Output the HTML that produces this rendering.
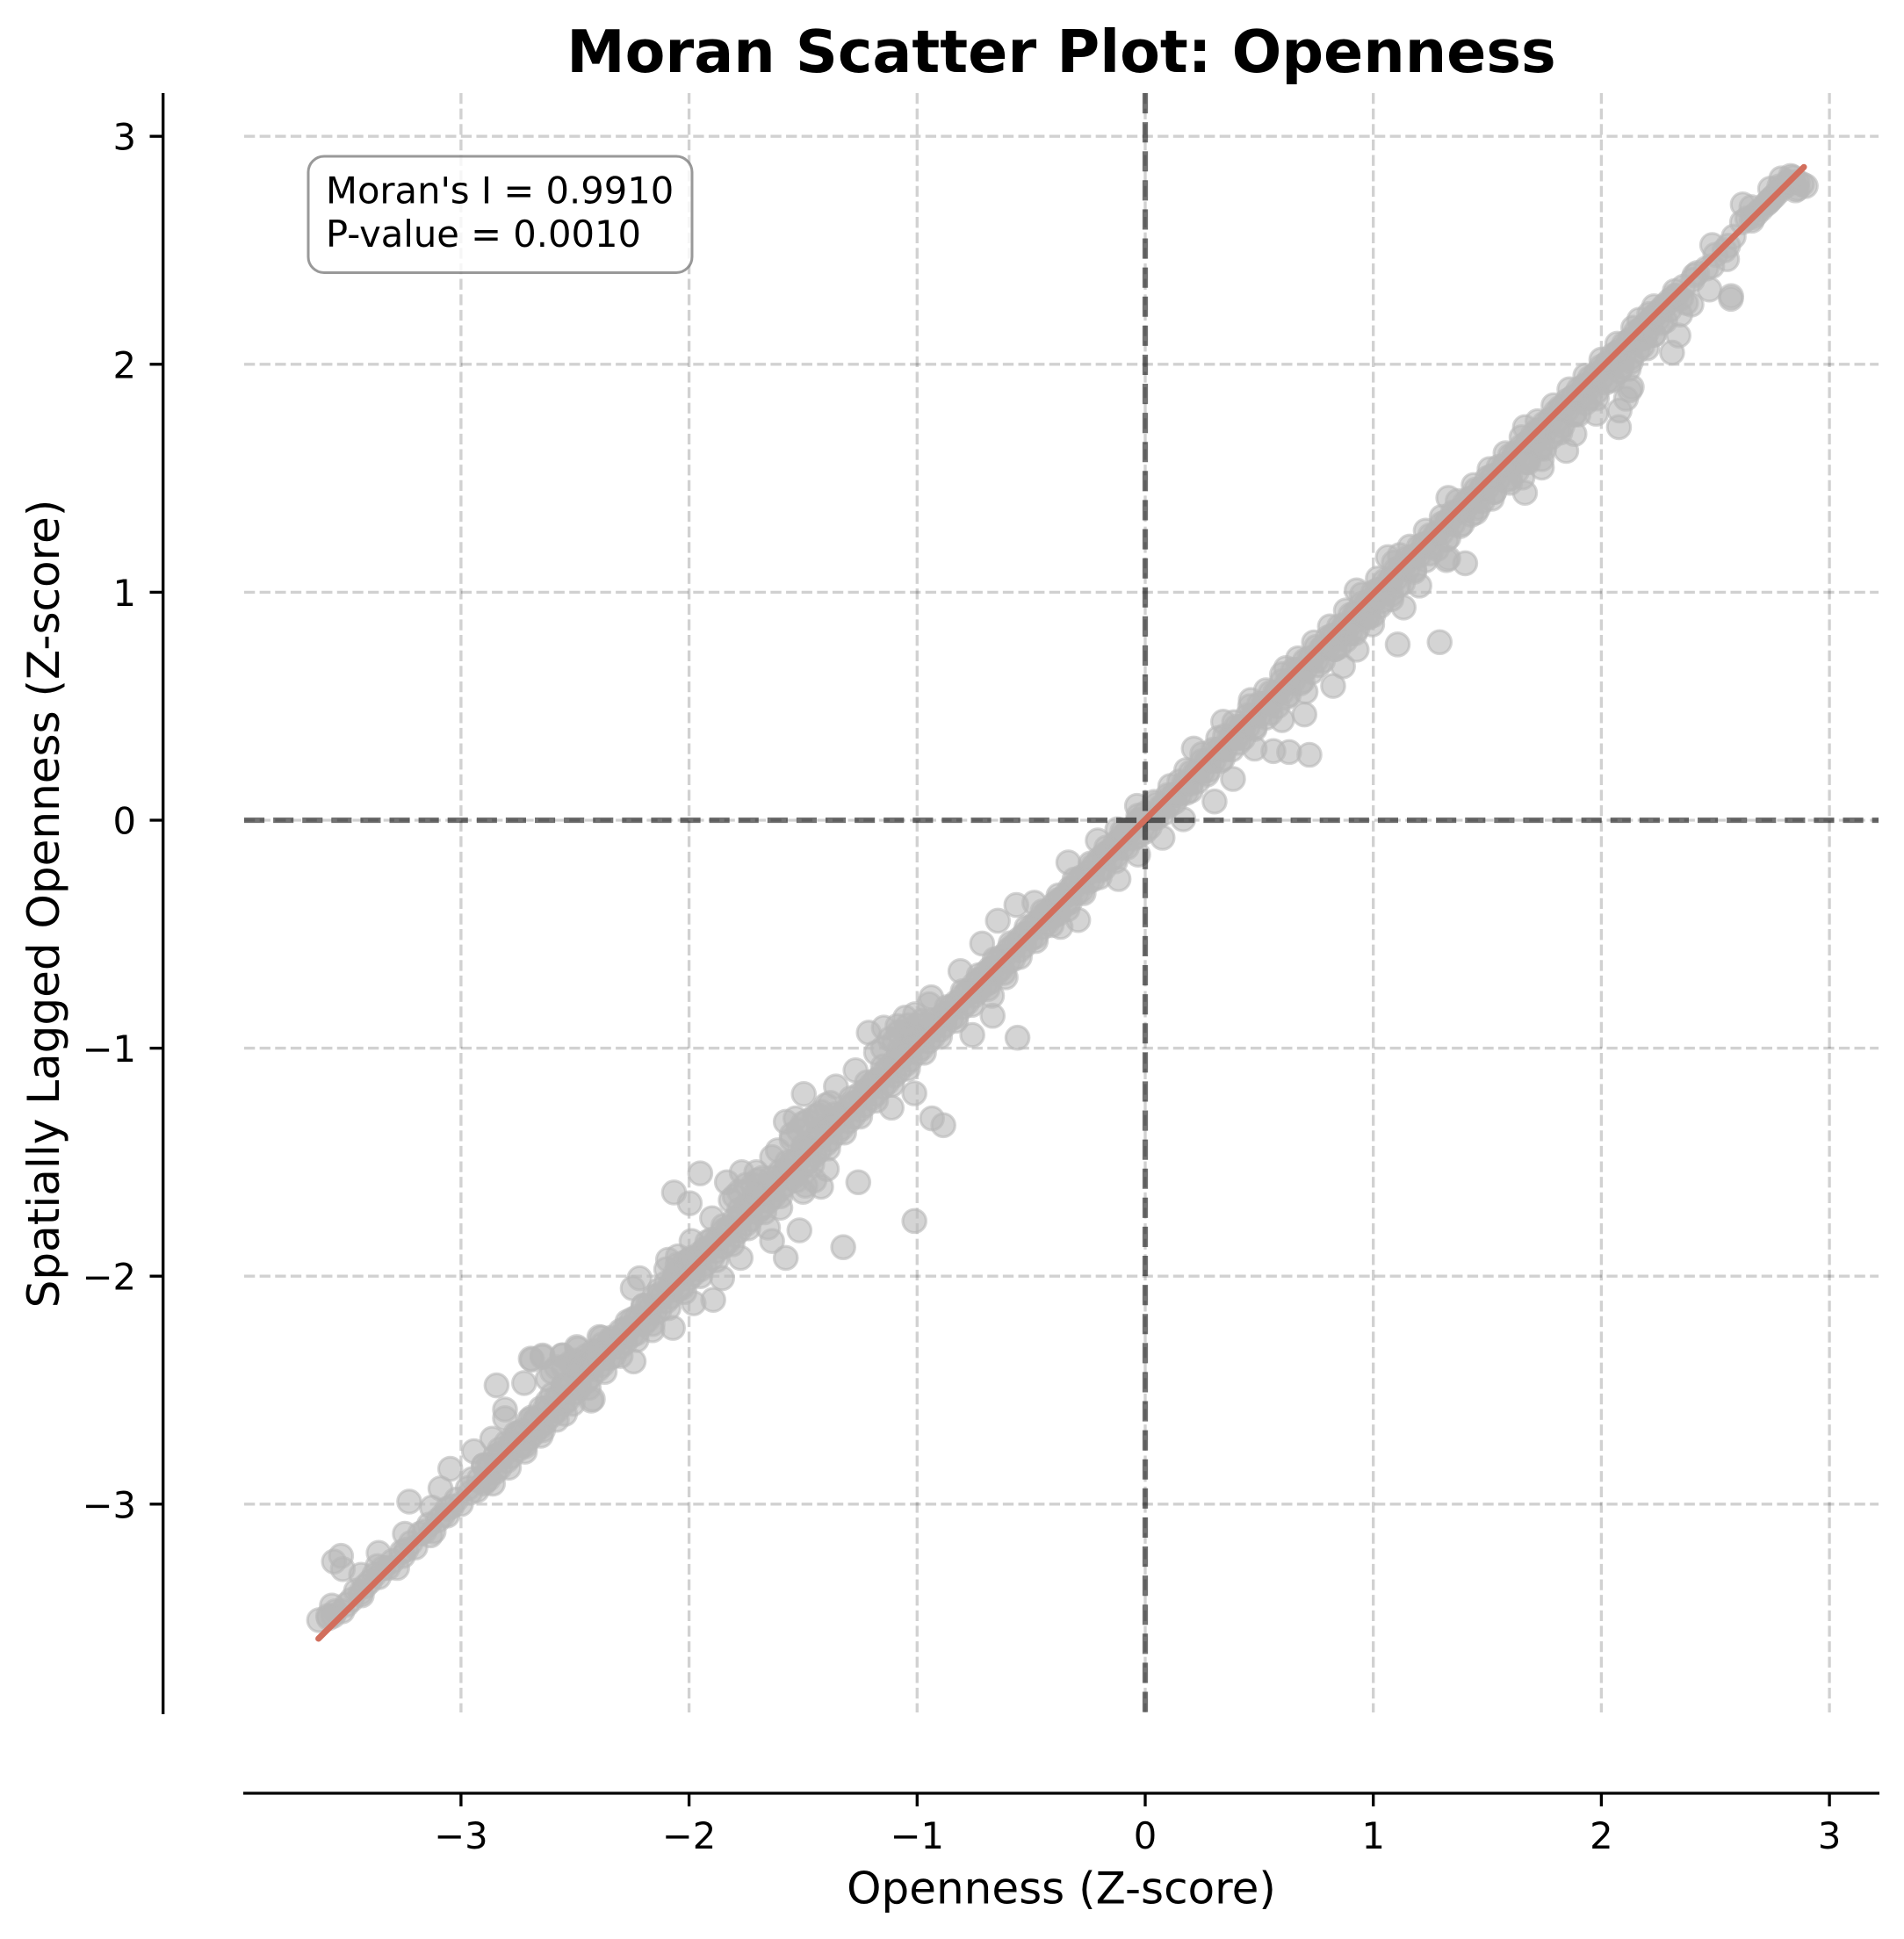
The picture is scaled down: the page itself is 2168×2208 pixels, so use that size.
<!DOCTYPE html>
<html lang="en">
<head>
<meta charset="utf-8">
<title>Moran Scatter Plot: Openness</title>
<style>
html,body{margin:0;padding:0;background:#fff;}
svg{display:block;}
text{font-family:"DejaVu Sans","Liberation Sans",sans-serif;fill:#000;}
</style>
</head>
<body>
<svg id="chart" xmlns="http://www.w3.org/2000/svg" width="2168" height="2208" viewBox="0 0 2168 2208">
  <rect x="0" y="0" width="2168" height="2208" fill="#ffffff"/>
  <g id="grid"></g>
  <g id="info-box">
    <rect x="351" y="178" width="437" height="132.500" rx="18" ry="18" fill="#ffffff" fill-opacity="0.8" stroke="#808080" stroke-opacity="0.8" stroke-width="3"/>
    <text x="371" y="231.500" font-size="41.670">Moran's I = 0.9910</text>
    <text x="371" y="281" font-size="41.670">P-value = 0.0010</text>
  </g>
  <g id="points"></g>
  <g id="zero-lines"></g>
  <g id="fit"></g>
  <g id="axes">
    <line x1="185.700" y1="106" x2="185.700" y2="1952" stroke="#000" stroke-width="3.330"/>
    <line x1="277" y1="2042" x2="2140" y2="2042" stroke="#000" stroke-width="3.330"/>
  </g>
  <g id="ticks"></g>
  <text x="1208.500" y="82" font-size="66.670" font-weight="bold" text-anchor="middle">Moran Scatter Plot: Openness</text>
  <text x="1208.500" y="2167.500" font-size="50" text-anchor="middle">Openness (Z-score)</text>
  <text transform="translate(67 1029) rotate(-90)" font-size="50" text-anchor="middle">Spatially Lagged Openness (Z-score)</text>
</svg>
<script>
const xTickValues = [-3, -2, -1, 0, 1, 2, 3];
const yTickValues = [-3, -2, -1, 0, 1, 2, 3];
const xTickLabels = ["\u22123", "\u22122", "\u22121", "0", "1", "2", "3"];
const yTickLabels = ["\u22123", "\u22122", "\u22121", "0", "1", "2", "3"];

const fitX = [-3.625, 2.888];
const fitY = [-3.59, 2.865];

const opennessValues = [
  -3.55,-3.50,-3.46,-3.42,-3.38,-3.34,-3.30,-3.26,-3.22,-3.18,
  -3.14,-3.10,-3.06,-3.02,-3.28,-3.20,-3.12,-3.06,-3.00,-2.96,
  -2.95,-2.90,-2.85,-2.80,-2.75,-2.70,-2.65,-2.60,-2.55,-2.50,
  -2.45,-2.40,-2.35,-2.30,-2.25,-2.20,-2.15,-2.10,-2.05,-2.00,
  -1.95,-1.90,-1.85,-1.80,-1.75,-1.70,-1.65,-1.60,-1.55,-1.50,
  -1.45,-1.40,-1.35,-1.30,-1.25,-1.20,-1.15,-1.10,-1.05,-1.00,
  -0.95,-0.90,-0.85,-0.80,-0.75,-0.70,-0.65,-0.60,-0.55,-0.50,
  -0.45,-0.40,-0.35,-0.30,-0.25,-0.20,-0.15,-0.10,-0.05,0.00,
  -2.93,-2.88,-2.83,-2.78,-2.73,-2.68,-2.63,-2.58,-2.53,-2.48,
  -2.43,-2.38,-2.33,-2.28,-2.23,-2.18,-2.13,-2.08,-2.03,-1.98,
  -1.93,-1.88,-1.83,-1.78,-1.73,-1.68,-1.63,-1.58,-1.53,-1.48,
  -1.43,-1.38,-1.33,-1.28,-1.23,-1.18,-1.13,-1.08,-1.03,-0.98,
  -0.93,-0.88,-0.83,-0.78,-0.73,-0.68,-0.63,-0.58,-0.53,-0.48,
  -0.43,-0.38,-0.33,-0.28,-0.23,-0.18,-0.13,-0.08,-0.03,0.02,
  0.05,0.10,0.15,0.20,0.25,0.30,0.35,0.40,0.45,0.50,
  0.55,0.60,0.65,0.70,0.75,0.80,0.85,0.90,0.95,1.00,
  1.05,1.10,1.15,1.20,1.25,1.30,1.35,1.40,1.45,1.50,
  1.55,1.60,1.65,1.70,1.75,1.80,1.85,1.90,1.95,2.00,
  2.05,2.10,2.15,2.20,2.25,2.30,2.36,2.42,2.50,2.58,
  0.08,0.13,0.18,0.23,0.28,0.33,0.38,0.43,0.48,0.53,
  0.58,0.63,0.68,0.73,0.78,0.83,0.88,0.93,0.98,1.03,
  1.08,1.13,1.18,1.23,1.28,1.33,1.38,1.43,1.48,1.53,
  1.58,1.63,1.68,1.73,1.78,1.83,1.88,1.93,1.98,2.03,
  2.08,2.13,2.18,2.23,2.28,2.66,2.70,2.75,2.78,2.82,
  -1.15,-1.10,-1.05,-1.00,-1.55,-1.50,-1.45,-1.40,-1.80,-1.75,
  -1.70,-2.05,-2.00,-2.60,-2.55,-2.50,-2.45,-1.60,-1.50,-1.45,
  2.896,2.851,2.830,2.789,2.740,2.620,2.617,2.666,2.658,2.732,
  2.486,2.556,2.551,2.486,2.408,2.474,2.568,2.569,2.322,2.371,
  2.395,2.231,2.338,2.310,2.346,2.166,2.264,2.190,2.130,2.133,
  2.125,2.108,2.080,2.077,1.977,1.882,1.846,1.739,1.739,1.665,
  1.654,1.403,1.329,1.321,1.665,1.329,1.116,0.927,1.107,1.291,
  0.824,0.698,0.720,0.631,0.562,0.480,0.385,0.304,0.167,0.076,
  -0.117,-0.031,-0.294,-0.371,-0.669,-0.758,-0.560,-0.672,-0.612,-0.938,
  -0.947,-0.810,-0.715,-0.646,-0.565,-0.486,-0.337,-0.208,-0.036,-0.122,
  0.213,0.342,0.463,0.617,1.064,0.703,0.600,0.867,0.927,0.995,
  1.133,1.202,-1.012,-1.112,-1.212,-1.146,-1.086,-1.052,-1.009,-1.270,
  -1.356,-1.497,-1.576,-1.533,-1.435,-1.611,-1.636,-0.935,-0.885,-1.258,
  -1.421,-1.396,-1.490,-1.012,-1.324,-1.516,-1.576,-1.636,-1.654,-1.951,
  -2.066,-1.997,-1.834,-1.769,-1.705,-1.817,-1.899,-1.989,-1.855,-1.894,
  -1.980,-2.071,-2.247,-2.217,-2.092,-2.049,-1.774,-2.243,-2.161,-2.393,
  -2.492,-2.556,-2.642,-2.694,-2.422,-2.844,-2.723,-2.688,-2.643,-2.555,
  -2.488,-2.384,-2.429,-2.807,-2.807,-2.863,-2.943,-3.047,-3.090,-3.227,
  -3.127,-3.246,-3.134,-3.254,-3.361,-3.366,-3.438,-3.435,-3.526,-3.557,
  -3.518,-3.566,-3.622,-3.582,-2.719,-2.640,-2.895,-2.544,
  -2.97,-2.92,-2.87,-2.82,-2.77,-2.72,-2.67,-2.62,-2.57,-2.52,
  -2.47,-2.42,-2.37,-2.32,-2.27,-2.22,-2.17,-2.12,-2.07,-2.02,
  -1.97,-1.92,-1.87,-1.82,-1.77,-1.72,-1.67,-1.62,-1.57,-1.52,
  -1.47,-1.42,-1.37,-1.32,-1.27,-1.22,-1.17,-1.12,-1.07,-1.02,
  -0.97,-0.92,-0.87,-0.82,-0.77,-0.72,-0.67,-0.62,-0.57,-0.52,
  -0.47,-0.42,-0.37,-0.32,-0.27,-0.22,-0.17,-0.12,-0.07,-0.02,
  -2.88,-2.83,-2.78,-2.73,-2.68,-2.63,-2.58,-2.53,-2.48,-2.43,
  -2.38,-2.33,-2.28,-2.23,-2.18,-2.13,-2.08,-2.03,-1.98,-1.93,
  -1.88,-1.83,-1.78,-1.73,-1.68,-1.63,-1.58,-1.53,-1.48,-1.43,
  -1.38,-1.33,-1.28,-1.23,-1.18,-1.13,-1.08,-1.03,-0.98,-0.93,
  -0.88,-0.83,-0.78,-0.73,-0.68,-0.63,-0.58,-0.53,-0.48,-0.43,
  -0.38,-0.33,-0.28,-0.23,-0.18,-0.13,-0.08,-0.03,
  -2.90,-2.85,-2.80,-2.75,-2.70,-2.65,-2.60,-2.55,-2.50,-2.45,
  -2.40,-2.35,-2.30,-2.25,-2.20,-2.15,-2.10,-2.05,-2.00,-1.95,
  -1.90,-1.85,-1.80,-1.75,-1.70,-1.65,-1.60,-1.55,-1.50,-1.45,
  -1.40,-1.35,-1.30,-1.25,-1.20,-1.15,-1.10,-1.05,-1.00,-0.95,
  -0.90,-0.85,-0.80,-0.75,-0.70,-0.65,-0.60,-0.55,-0.50,-0.45,
  -0.40,-0.35,-0.30,-0.25,-0.20,-0.15,-0.10,-0.05,0.00,0.05,
  0.02,0.07,0.12,0.17,0.22,0.27,0.32,0.37,0.42,0.47,
  0.52,0.57,0.62,0.67,0.72,0.77,0.82,0.87,0.92,0.97,
  1.02,1.07,1.12,1.17,1.22,1.27,1.32,1.37,1.42,1.47,
  1.52,1.57,1.62,1.67,1.72,1.77,1.82,1.87,1.92,1.97,
  2.02,2.07,2.12,2.17,2.22,2.27,2.32,2.40,2.46,2.54,
  0.10,0.15,0.20,0.25,0.30,0.35,0.40,0.45,0.50,0.55,
  0.60,0.65,0.70,0.75,0.80,0.85,0.90,0.95,1.00,1.05,
  1.10,1.15,1.20,1.25,1.30,1.35,1.40,1.45,1.50,1.55,
  1.60,1.65,1.70,1.75,1.80,1.85,1.90,1.95,2.00,2.05,
  2.10,2.15,2.20,2.25,2.30,2.35,2.72,2.76,2.80,2.86,
  0.03,0.08,0.13,0.18,0.23,0.28,0.33,0.38,0.43,0.48,
  0.53,0.58,0.63,0.68,0.73,0.78,0.83,0.88,0.93,0.98,
  1.03,1.08,1.13,1.18,1.23,1.28,1.33,1.38,1.43,1.48,
  1.53,1.58,1.63,1.68,1.73,1.78,1.83,1.88,1.93,1.98,
  2.03,2.08,2.13,2.18,2.23,2.28,2.33,
  1.45,1.52,1.60,1.68,1.75,1.82,1.90,1.98,2.05,2.12,
  2.20,0.85,0.92,1.00,1.08,
  -3.52,-3.48,-3.44,-3.40,-3.36,-3.32,-3.24,-3.16,-3.08,-3.04,
  -3.58,-3.56,2.68,2.74,2.78,2.82,2.86,2.88,2.84,2.64,
  -1.18,-1.12,-1.08,-1.04,-1.02,-0.98,-1.55,-1.52,-1.48,-1.42,
  -1.38,-1.78,-1.72,-1.68,-2.58,-2.52,-2.48,-2.42,-2.38,-2.62,
  -2.10,-2.02,
  -2.90,-2.83,-2.76,-2.69,-2.62,-2.55,-2.48,-2.41,-2.34,-2.27,
  -2.20,-2.13,-2.06,-1.99,-1.92,-1.85,-1.78,-1.71,-1.64,-1.57,
  -1.50,-1.43,-1.36,-1.29,-1.22,-1.15,-1.08,-1.01,-0.94,-0.87,
  -0.80,-0.73,-0.66,-0.59,-0.52,-0.45,-0.38,-0.31,-0.24,-0.17,
  -0.10,-0.03,0.04,0.11,0.18,0.25,0.32,0.39,0.46,0.53,
  0.60,0.67,0.74,0.81,0.88,0.95,1.02,1.09,1.16,1.23,
  1.30,1.37,1.44,1.51,1.58,1.65,1.72,1.79,1.86,1.93,
  2.00,2.07,2.14,2.21,
  -2.86,-2.79,-2.72,-2.65,-2.58,-2.51,-2.44,-2.37,-2.30,-2.23,
  -2.16,-2.09,-2.02,-1.95,-1.88,-1.81,-1.74,-1.67,-1.60,-1.53,
  -1.46,-1.39,-1.32,-1.25,-1.18,-1.11,-1.04,-0.97,-0.90,-0.83,
  -0.76,-0.69,-0.62,-0.55,-0.48,-0.41,-0.34,-0.27,-0.20,-0.13,
  0.20,0.27,0.34,0.41,0.48,0.55,0.62,0.69,0.76,0.83,
  0.90,0.97,1.04,1.11,1.18,1.25,1.32,1.39,1.46,1.53,
  1.60,1.67,1.74,1.81,1.88,1.95,2.02,2.09,2.16,2.23
];

const laggedValues = [
  -3.47,-3.44,-3.38,-3.36,-3.31,-3.28,-3.25,-3.21,-3.17,-3.13,
  -3.09,-3.07,-3.02,-2.98,-3.28,-3.19,-3.12,-3.05,-3.00,-2.95,
  -2.89,-2.83,-2.79,-2.73,-2.69,-2.63,-2.58,-2.52,-2.48,-2.43,
  -2.39,-2.33,-2.29,-2.24,-2.19,-2.13,-2.09,-2.03,-1.99,-1.95,
  -1.90,-1.84,-1.80,-1.75,-1.69,-1.65,-1.60,-1.54,-1.50,-1.45,
  -1.40,-1.35,-1.31,-1.26,-1.20,-1.16,-1.11,-1.06,-1.01,-0.96,
  -0.92,-0.87,-0.82,-0.77,-0.72,-0.67,-0.62,-0.57,-0.52,-0.47,
  -0.42,-0.37,-0.33,-0.27,-0.23,-0.17,-0.13,-0.07,-0.03,0.03,
  -2.94,-2.89,-2.84,-2.79,-2.74,-2.69,-2.64,-2.59,-2.54,-2.49,
  -2.44,-2.39,-2.35,-2.29,-2.25,-2.19,-2.15,-2.09,-2.05,-1.99,
  -1.95,-1.89,-1.85,-1.80,-1.75,-1.70,-1.65,-1.60,-1.55,-1.50,
  -1.45,-1.40,-1.35,-1.30,-1.25,-1.20,-1.15,-1.10,-1.05,-1.00,
  -0.95,-0.90,-0.86,-0.80,-0.75,-0.71,-0.65,-0.61,-0.55,-0.51,
  -0.45,-0.41,-0.36,-0.31,-0.26,-0.21,-0.16,-0.12,-0.07,-0.03,
  0.07,0.11,0.17,0.21,0.26,0.31,0.37,0.41,0.46,0.51,
  0.56,0.61,0.66,0.70,0.76,0.80,0.85,0.90,0.95,1.00,
  1.05,1.10,1.15,1.20,1.25,1.30,1.35,1.39,1.45,1.50,
  1.55,1.60,1.64,1.69,1.74,1.79,1.84,1.89,1.94,1.99,
  2.04,2.09,2.14,2.18,2.23,2.28,2.34,2.40,2.48,2.56,
  0.03,0.08,0.12,0.17,0.22,0.26,0.31,0.36,0.40,0.45,
  0.50,0.55,0.60,0.65,0.70,0.75,0.79,0.84,0.89,0.94,
  0.99,1.04,1.09,1.14,1.19,1.24,1.29,1.34,1.40,1.44,
  1.49,1.53,1.59,1.63,1.68,1.73,1.78,1.83,1.88,1.93,
  1.97,2.03,2.08,2.13,2.19,2.63,2.68,2.73,2.76,2.79,
  -1.00,-0.97,-0.93,-0.90,-1.38,-1.33,-1.30,-1.25,-1.65,-1.60,
  -1.58,-1.95,-1.93,-2.42,-2.40,-2.37,-2.35,-1.70,-1.63,-1.58,
  2.782,2.763,2.826,2.815,2.770,2.701,2.623,2.645,2.689,2.711,
  2.523,2.520,2.461,2.431,2.390,2.328,2.287,2.299,2.321,2.269,
  2.262,2.254,2.126,2.051,2.218,2.195,2.181,2.114,2.011,1.900,
  1.886,1.849,1.797,1.724,1.783,1.694,1.620,1.547,1.584,1.436,
  1.503,1.127,1.149,1.141,1.724,1.414,1.163,1.008,0.771,0.781,
  0.589,0.464,0.287,0.299,0.303,0.314,0.181,0.082,0.004,-0.077,
  -0.258,-0.151,-0.438,-0.468,-0.858,-0.942,-0.954,-0.770,-0.689,-0.777,
  -0.807,-0.662,-0.541,-0.441,-0.372,-0.362,-0.185,-0.089,0.063,-0.040,
  0.314,0.432,0.527,0.667,1.154,0.564,0.439,0.675,0.748,0.859,
  0.933,1.029,-1.198,-1.261,-0.932,-0.910,-0.903,-0.866,-0.851,-1.097,
  -1.168,-1.201,-1.323,-1.308,-1.294,-1.448,-1.478,-1.308,-1.338,-1.588,
  -1.608,-1.530,-1.603,-1.758,-1.873,-1.799,-1.920,-1.846,-1.787,-1.549,
  -1.633,-1.680,-1.588,-1.544,-1.544,-1.667,-1.746,-1.846,-2.009,-2.104,
  -2.119,-2.227,-2.053,-2.009,-1.928,-1.913,-1.920,-2.374,-2.237,-2.267,
  -2.311,-2.348,-2.348,-2.362,-2.539,-2.479,-2.469,-2.366,-2.354,-2.347,
  -2.319,-2.270,-2.546,-2.585,-2.623,-2.713,-2.768,-2.845,-2.931,-2.989,
  -3.015,-3.130,-3.137,-3.227,-3.214,-3.272,-3.310,-3.400,-3.227,-3.252,
  -3.285,-3.445,-3.509,-3.490,-2.745,-2.675,-2.899,-2.604,
  -2.93,-2.89,-2.83,-2.79,-2.73,-2.69,-2.63,-2.59,-2.53,-2.49,
  -2.43,-2.39,-2.34,-2.29,-2.24,-2.19,-2.14,-2.09,-2.04,-1.99,
  -1.94,-1.89,-1.84,-1.79,-1.74,-1.69,-1.64,-1.59,-1.54,-1.49,
  -1.44,-1.39,-1.34,-1.29,-1.24,-1.19,-1.14,-1.09,-1.04,-0.99,
  -0.95,-0.90,-0.85,-0.80,-0.75,-0.70,-0.65,-0.60,-0.55,-0.50,
  -0.45,-0.40,-0.35,-0.30,-0.25,-0.20,-0.15,-0.10,-0.05,0.00,
  -2.83,-2.78,-2.73,-2.68,-2.63,-2.58,-2.53,-2.48,-2.43,-2.38,
  -2.33,-2.28,-2.23,-2.18,-2.13,-2.08,-2.03,-1.98,-1.93,-1.88,
  -1.84,-1.79,-1.74,-1.69,-1.64,-1.59,-1.54,-1.49,-1.44,-1.39,
  -1.34,-1.29,-1.24,-1.19,-1.14,-1.09,-1.04,-0.99,-0.95,-0.90,
  -0.85,-0.80,-0.75,-0.70,-0.65,-0.60,-0.55,-0.50,-0.45,-0.40,
  -0.35,-0.30,-0.25,-0.20,-0.15,-0.10,-0.05,0.00,
  -2.91,-2.86,-2.81,-2.76,-2.71,-2.66,-2.61,-2.56,-2.51,-2.46,
  -2.41,-2.36,-2.31,-2.26,-2.21,-2.16,-2.11,-2.06,-2.01,-1.97,
  -1.92,-1.87,-1.82,-1.77,-1.72,-1.67,-1.62,-1.57,-1.52,-1.47,
  -1.42,-1.37,-1.32,-1.27,-1.22,-1.17,-1.12,-1.07,-1.02,-0.97,
  -0.92,-0.87,-0.82,-0.77,-0.72,-0.67,-0.62,-0.57,-0.52,-0.47,
  -0.42,-0.37,-0.32,-0.27,-0.22,-0.17,-0.12,-0.08,-0.05,0.01,
  0.02,0.06,0.11,0.16,0.21,0.26,0.31,0.36,0.41,0.46,
  0.51,0.56,0.60,0.66,0.71,0.75,0.81,0.85,0.91,0.95,
  1.01,1.05,1.11,1.15,1.21,1.25,1.31,1.35,1.41,1.45,
  1.51,1.55,1.61,1.65,1.71,1.75,1.81,1.85,1.90,1.95,
  2.00,2.05,2.10,2.15,2.20,2.25,2.30,2.37,2.42,2.50,
  0.06,0.11,0.16,0.21,0.26,0.31,0.36,0.41,0.46,0.51,
  0.56,0.61,0.66,0.70,0.76,0.80,0.86,0.90,0.96,1.00,
  1.06,1.10,1.16,1.20,1.26,1.30,1.36,1.40,1.46,1.50,
  1.55,1.60,1.65,1.70,1.75,1.80,1.85,1.90,1.94,2.00,
  2.05,2.10,2.14,2.20,2.24,2.29,2.70,2.74,2.78,2.80,
  0.01,0.06,0.11,0.16,0.21,0.26,0.31,0.36,0.41,0.46,
  0.51,0.56,0.61,0.66,0.71,0.76,0.81,0.86,0.91,0.96,
  1.01,1.06,1.11,1.16,1.21,1.26,1.31,1.36,1.41,1.46,
  1.51,1.56,1.61,1.66,1.71,1.76,1.81,1.86,1.91,1.96,
  2.01,2.06,2.11,2.16,2.21,2.26,2.30,
  1.35,1.41,1.48,1.57,1.63,1.70,1.78,1.85,1.93,1.98,
  2.07,0.76,0.82,0.90,0.97,
  -3.47,-3.42,-3.39,-3.34,-3.32,-3.28,-3.20,-3.12,-3.05,-3.01,
  -3.50,-3.49,2.66,2.72,2.78,2.80,2.77,2.79,2.82,2.64,
  -1.02,-0.96,-0.93,-0.90,-0.93,-0.88,-1.40,-1.36,-1.32,-1.28,
  -1.24,-1.63,-1.60,-1.57,-2.40,-2.38,-2.38,-2.33,-2.30,-2.45,
  -1.97,-1.94,
  -2.83,-2.76,-2.69,-2.62,-2.55,-2.48,-2.41,-2.34,-2.27,-2.20,
  -2.13,-2.06,-1.99,-1.92,-1.85,-1.78,-1.71,-1.64,-1.57,-1.50,
  -1.43,-1.36,-1.29,-1.22,-1.15,-1.08,-1.01,-0.95,-0.88,-0.82,
  -0.75,-0.68,-0.61,-0.54,-0.47,-0.40,-0.33,-0.26,-0.19,-0.12,
  -0.05,0.02,0.08,0.15,0.22,0.29,0.36,0.43,0.50,0.57,
  0.64,0.71,0.78,0.85,0.92,0.99,1.06,1.13,1.20,1.27,
  1.33,1.40,1.47,1.54,1.61,1.68,1.75,1.82,1.89,1.95,
  2.02,2.09,2.16,2.22,
  -2.91,-2.84,-2.77,-2.70,-2.63,-2.56,-2.49,-2.42,-2.35,-2.28,
  -2.21,-2.14,-2.07,-2.00,-1.93,-1.86,-1.79,-1.72,-1.65,-1.58,
  -1.51,-1.44,-1.37,-1.30,-1.23,-1.16,-1.09,-1.02,-0.95,-0.88,
  -0.81,-0.74,-0.67,-0.60,-0.53,-0.46,-0.39,-0.32,-0.25,-0.18,
  0.13,0.20,0.27,0.34,0.41,0.47,0.54,0.61,0.68,0.75,
  0.82,0.89,0.96,1.03,1.10,1.17,1.23,1.30,1.37,1.44,
  1.50,1.57,1.64,1.71,1.78,1.85,1.92,1.99,2.06,2.13
];

const svgNS = "http://www.w3.org/2000/svg";

function xScale(v) { return 1304 + 259.7 * v; }
function yScale(v) { return 934 - 259.6 * v; }

function make(tag, parentId, attrs) {
  const el = document.createElementNS(svgNS, tag);
  for (const k in attrs) el.setAttribute(k, attrs[k]);
  document.getElementById(parentId).appendChild(el);
  return el;
}

xTickValues.forEach(function (v, i) {
  const px = xScale(v);
  const grid = make("line", "grid", { x1: px, y1: 106, x2: px, y2: 1950, stroke: "#000", "stroke-opacity": 0.18, "stroke-width": 3.33, "stroke-dasharray": "12.3 5.33" });
  
  
  const tick = make("line", "ticks", { x1: px, y1: 2042, x2: px, y2: 2057, stroke: "#000", "stroke-width": 3.33 });
  
  
  const label = make("text", "ticks", { x: px, y: 2105, "font-size": 41.67, "text-anchor": "middle" });
  label.textContent = xTickLabels[i];
  
  
});

yTickValues.forEach(function (v, i) {
  const py = yScale(v);
  const grid = make("line", "grid", { x1: 278, y1: py, x2: 2139, y2: py, stroke: "#000", "stroke-opacity": 0.18, "stroke-width": 3.33, "stroke-dasharray": "12.3 5.33" });
  
  
  const tick = make("line", "ticks", { x1: 170.5, y1: py, x2: 185, y2: py, stroke: "#000", "stroke-width": 3.33 });
  
  
  const label = make("text", "ticks", { x: 155, y: py + 15.5, "font-size": 41.67, "text-anchor": "end" });
  label.textContent = yTickLabels[i];
  
  
});

opennessValues.forEach(function (v, i) {
  const dot = make("circle", "points", { cx: xScale(v), cy: yScale(laggedValues[i]), r: 13.2, fill: "#b8b8b8", "fill-opacity": 0.6, stroke: "#b8b8b8", "stroke-opacity": 0.6, "stroke-width": 3.2 });
  
  
});

const zeroH = make("line", "zero-lines", { x1: 278, y1: yScale(0), x2: 2139, y2: yScale(0), stroke: "#000", "stroke-opacity": 0.55, "stroke-width": 6.25, "stroke-dasharray": "23.1 10" });


const zeroV = make("line", "zero-lines", { x1: xScale(0), y1: 106, x2: xScale(0), y2: 1950, stroke: "#000", "stroke-opacity": 0.55, "stroke-width": 6.25, "stroke-dasharray": "23.1 10" });



const fitLine = make("line", "fit", { x1: xScale(fitX[0]), y1: yScale(fitY[0]), x2: xScale(fitX[1]), y2: yScale(fitY[1]), stroke: "#d26e5c", "stroke-width": 7, "stroke-linecap": "round" });


</script>
</body>
</html>
